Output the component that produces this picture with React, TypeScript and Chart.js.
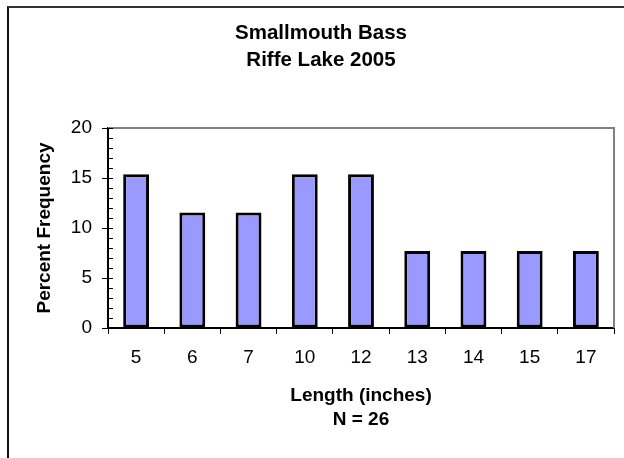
import React, { useEffect, useRef } from "react";
import { Chart, registerables } from "chart.js";

Chart.register(...registerables);

const titleLines = ["Smallmouth Bass", "Riffe Lake 2005"];
const categories = ["5", "6", "7", "10", "12", "13", "14", "15", "17"];
const percentFrequency = [15.38, 11.54, 11.54, 15.38, 15.38, 7.69, 7.69, 7.69, 7.69];
const yTitle = "Percent Frequency";
const xTitleLines = ["Length (inches)", "N = 26"];
const yMin = 0;
const yMax = 20;
const yMajorStep = 5;
const yMinorStep = 1;

const FONT = "'Liberation Sans', Arial, sans-serif";

const extrasPlugin = {
  id: "extras",
  beforeDatasetsDraw(chart: any) {
    const { ctx, chartArea } = chart;
    ctx.save();
    ctx.strokeStyle = "#808080";
    ctx.lineWidth = 2;
    ctx.beginPath();
    ctx.moveTo(chartArea.left, chartArea.top);
    ctx.lineTo(chartArea.right, chartArea.top);
    ctx.lineTo(chartArea.right, chartArea.bottom);
    ctx.stroke();
    ctx.restore();
  },
  afterDatasetsDraw(chart: any) {
    const { ctx, chartArea } = chart;
    const y = chart.scales.y;
    ctx.save();
    ctx.strokeStyle = "#000";
    ctx.lineWidth = 1;
    for (let v = yMin; v <= yMax; v += yMinorStep) {
      const py = Math.round(y.getPixelForValue(v)) + 0.5;
      ctx.beginPath();
      ctx.moveTo(chartArea.left, py);
      ctx.lineTo(chartArea.left + 5, py);
      ctx.stroke();
    }
    ctx.restore();
  },
};

export default function App() {
  const ref = useRef<HTMLCanvasElement | null>(null);

  useEffect(() => {
    if (!ref.current) return;
    const chart = new Chart(ref.current, {
      type: "bar",
      data: {
        labels: categories,
        datasets: [
          {
            data: percentFrequency,
            backgroundColor: "#9999FF",
            borderColor: "#000000",
            borderWidth: 3,
            borderSkipped: false,
            categoryPercentage: 1,
            barPercentage: 0.46,
          },
        ],
      },
      options: {
        animation: false,
        responsive: false,
        devicePixelRatio: 1,
        layout: { padding: { left: 28, right: 10, top: 0, bottom: 0 } },
        plugins: {
          legend: { display: false },
          tooltip: { enabled: false },
          title: {
            display: true,
            text: titleLines,
            color: "#000",
            font: { family: FONT, size: 20.5, weight: "bold", lineHeight: 27 / 20.5 },
            padding: { top: 19.5, bottom: 54.5 },
          },
        },
        scales: {
          x: {
            grid: {
              display: true,
              drawOnChartArea: false,
              drawTicks: true,
              tickLength: 6,
              tickColor: "#000",
              tickWidth: 1,
              offset: true,
            },
            border: { display: true, color: "#000", width: 2 },
            ticks: {
              color: "#000",
              font: { family: FONT, size: 19 },
              padding: 12,
              maxRotation: 0,
            },
            title: {
              display: true,
              text: xTitleLines,
              color: "#000",
              font: { family: FONT, size: 19, weight: "bold", lineHeight: 24 / 19 },
              padding: { top: 0, bottom: 26 },
            },
            afterFit(scale: any) {
              scale.height = 130;
            },
          },
          y: {
            min: yMin,
            max: yMax,
            grid: {
              display: true,
              drawOnChartArea: false,
              drawTicks: true,
              tickLength: 6,
              tickColor: "#000",
              tickWidth: 1,
            },
            border: { display: true, color: "#000", width: 2 },
            ticks: {
              stepSize: yMajorStep,
              color: "#000",
              font: { family: FONT, size: 19 },
              padding: 10,
            },
            title: {
              display: true,
              text: yTitle,
              color: "#000",
              font: { family: FONT, size: 19, weight: "bold" },
              padding: { top: 5.6, bottom: 0 },
            },
            afterFit(scale: any) {
              scale.width = 80;
            },
          },
        },
      },
      plugins: [extrasPlugin],
    } as any);
    return () => chart.destroy();
  }, []);

  return (
    <div style={{ position: "absolute", left: 0, top: 0, width: 624, height: 458, background: "#fff", overflow: "hidden" }}>
      <div
        style={{
          position: "absolute",
          left: 7,
          top: 6,
          width: 640,
          height: 470,
          borderLeft: "2px solid #111",
          borderTop: "2px solid #333",
          boxSizing: "border-box",
        }}
      />
      <canvas ref={ref} width={624} height={458} style={{ position: "absolute", left: 0, top: 0, width: 624, height: 458 }} />
    </div>
  );
}
